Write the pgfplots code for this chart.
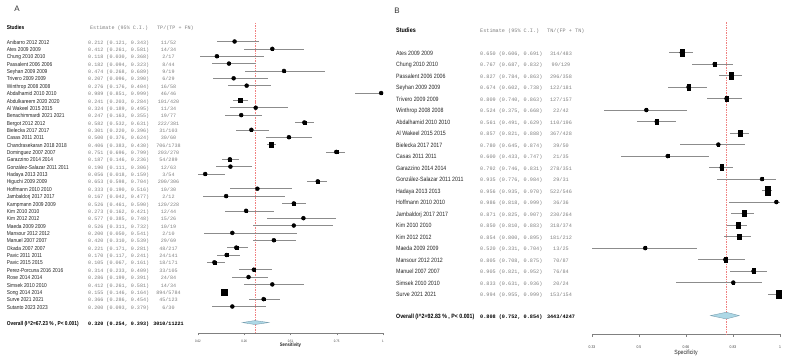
\documentclass[border=0pt]{standalone}
\usepackage{pgfplots}
\pgfplotsset{compat=1.18}
\usepackage{pgfplotstable}
\usepackage{fontspec}
\setmainfont{Liberation Sans}
\setmonofont{Liberation Mono}
\newfontfamily\narrow[FakeStretch=0.85]{Liberation Sans}

\definecolor{cigray}{HTML}{8C8C8C}
\definecolor{txtgray}{HTML}{808080}
\definecolor{refred}{HTML}{F08080}
\definecolor{diafill}{HTML}{ADD8E6}
\definecolor{diaedge}{HTML}{7A9FB0}

% Sensitivity: study; estimate; 95% CI; printed estimate; TP/(TP+FN); box half-size (pt)
\pgfplotstableread[col sep=semicolon,row sep=\\]{
name;est;lo;hi;ci;frac;s\\
Anibarro 2012 2012;0.212;0.121;0.343;0.212 (0.121, 0.343);11/52;1.0\\
Ates 2009 2009;0.412;0.261;0.581;0.412 (0.261, 0.581);14/34;1.0\\
Chung 2010 2010;0.118;0.030;0.368;0.118 (0.030, 0.368);2/17;0.9\\
Passalent 2006 2006;0.182;0.094;0.323;0.182 (0.094, 0.323);8/44;1.0\\
Seyhan 2009 2009;0.474;0.268;0.689;0.474 (0.268, 0.689);9/19;0.9\\
Trivero 2009 2009;0.207;0.096;0.390;0.207 (0.096, 0.390);6/29;0.9\\
Winthrop 2008 2008;0.276;0.176;0.404;0.276 (0.176, 0.404);16/58;1.0\\
Abdalhamid 2010 2010;0.989;0.851;0.999;0.989 (0.851, 0.999);46/46;1.1\\
Abdulkareem 2020 2020;0.241;0.203;0.284;0.241 (0.203, 0.284);101/420;1.8\\
Al Wakeel 2015 2015;0.324;0.189;0.495;0.324 (0.189, 0.495);11/34;0.9\\
Benachimmardi 2021 2021;0.247;0.163;0.355;0.247 (0.163, 0.355);19/77;1.0\\
Bergot 2012 2012;0.582;0.532;0.631;0.582 (0.532, 0.631);222/381;1.6\\
Bielecka 2017 2017;0.301;0.220;0.396;0.301 (0.220, 0.396);31/103;1.1\\
Casas 2011 2011;0.500;0.376;0.624;0.500 (0.376, 0.624);30/60;1.0\\
Chandrasekaran 2018 2018;0.406;0.383;0.430;0.406 (0.383, 0.430);706/1738;2.2\\
Dominguez 2007 2007;0.751;0.696;0.799;0.751 (0.696, 0.799);203/270;1.5\\
Garazzino 2014 2014;0.187;0.146;0.236;0.187 (0.146, 0.236);54/289;1.5\\
González-Salazar 2011 2011;0.190;0.111;0.306;0.190 (0.111, 0.306);12/63;1.0\\
Hadaya 2013 2013;0.056;0.018;0.159;0.056 (0.018, 0.159);3/54;1.2\\
Higuchi 2009 2009;0.653;0.598;0.704;0.653 (0.598, 0.704);200/306;1.5\\
Hoffmann 2010 2010;0.333;0.190;0.516;0.333 (0.190, 0.516);10/30;0.9\\
Jambaldorj 2017 2017;0.167;0.042;0.477;0.167 (0.042, 0.477);2/12;0.9\\
Kampmann 2009 2009;0.526;0.461;0.590;0.526 (0.461, 0.590);120/228;1.5\\
Kim 2010 2010;0.273;0.162;0.421;0.273 (0.162, 0.421);12/44;1.0\\
Kim 2012 2012;0.577;0.385;0.748;0.577 (0.385, 0.748);15/26;0.9\\
Maeda 2009 2009;0.526;0.311;0.732;0.526 (0.311, 0.732);10/19;0.9\\
Mansour 2012 2012;0.200;0.050;0.541;0.200 (0.050, 0.541);2/10;0.8\\
Manuel 2007 2007;0.420;0.310;0.539;0.420 (0.310, 0.539);29/69;1.1\\
Okada 2007 2007;0.221;0.171;0.281;0.221 (0.171, 0.281);48/217;1.5\\
Pavic 2011 2011;0.170;0.117;0.241;0.170 (0.117, 0.241);24/141;1.4\\
Pavic 2015 2015;0.105;0.067;0.161;0.105 (0.067, 0.161);18/171;1.5\\
Perez-Porcuna 2016 2016;0.314;0.233;0.409;0.314 (0.233, 0.409);33/105;1.1\\
Rose 2014 2014;0.286;0.199;0.391;0.286 (0.199, 0.391);24/84;1.1\\
Simsek 2010 2010;0.412;0.261;0.581;0.412 (0.261, 0.581);14/34;1.0\\
Song 2014 2014;0.155;0.146;0.164;0.155 (0.146, 0.164);894/5784;3.0\\
Surve 2021 2021;0.366;0.286;0.454;0.366 (0.286, 0.454);45/123;1.3\\
Sutanto 2023 2023;0.200;0.093;0.379;0.200 (0.093, 0.379);6/30;1.0\\
}\sensTable

% Specificity: study; estimate; 95% CI; printed estimate; TN/(FP+TN); box half-width (pt)
\pgfplotstableread[col sep=semicolon,row sep=\\]{
name;est;lo;hi;ci;frac;s\\
Ates 2009 2009;0.650;0.606;0.691;0.650 (0.606, 0.691);314/483;2.0\\
Chung 2010 2010;0.767;0.687;0.832;0.767 (0.687, 0.832);99/129;1.4\\
Passalent 2006 2006;0.827;0.784;0.863;0.827 (0.784, 0.863);296/358;2.0\\
Seyhan 2009 2009;0.674;0.602;0.738;0.674 (0.602, 0.738);122/181;1.7\\
Trivero 2009 2009;0.809;0.740;0.863;0.809 (0.740, 0.863);127/157;1.5\\
Winthrop 2008 2008;0.524;0.375;0.668;0.524 (0.375, 0.668);22/42;1.0\\
Abdalhamid 2010 2010;0.561;0.491;0.629;0.561 (0.491, 0.629);110/196;1.6\\
Al Wakeel 2015 2015;0.857;0.821;0.888;0.857 (0.821, 0.888);367/428;2.0\\
Bielecka 2017 2017;0.780;0.645;0.874;0.780 (0.645, 0.874);39/50;1.1\\
Casas 2011 2011;0.600;0.433;0.747;0.600 (0.433, 0.747);21/35;1.0\\
Garazzino 2014 2014;0.792;0.746;0.831;0.792 (0.746, 0.831);278/351;1.9\\
González-Salazar 2011 2011;0.935;0.776;0.984;0.935 (0.776, 0.984);29/31;1.0\\
Hadaya 2013 2013;0.956;0.935;0.970;0.956 (0.935, 0.970);522/546;2.8\\
Hoffmann 2010 2010;0.986;0.818;0.999;0.986 (0.818, 0.999);36/36;0.9\\
Jambaldorj 2017 2017;0.871;0.825;0.907;0.871 (0.825, 0.907);230/264;1.9\\
Kim 2010 2010;0.850;0.810;0.883;0.850 (0.810, 0.883);318/374;1.9\\
Kim 2012 2012;0.854;0.800;0.895;0.854 (0.800, 0.895);181/212;1.8\\
Maeda 2009 2009;0.520;0.331;0.704;0.520 (0.331, 0.704);13/25;0.9\\
Mansour 2012 2012;0.805;0.708;0.875;0.805 (0.708, 0.875);70/87;1.6\\
Manuel 2007 2007;0.905;0.821;0.952;0.905 (0.821, 0.952);76/84;1.6\\
Simsek 2010 2010;0.833;0.631;0.936;0.833 (0.631, 0.936);20/24;1.0\\
Surve 2021 2021;0.994;0.955;0.999;0.994 (0.955, 0.999);153/154;2.7\\
}\specTable

\pgfplotsset{
  forest/.style={
    scale only axis, clip=false,
    axis y line=none, axis x line*=bottom,
    x axis line style={gray, line width=0.5pt},
    xtick align=outside, major tick length=2.5bp,
    xtick style={gray, line width=0.5pt},
  },
  cirow/.style={only marks, mark=none, forget plot,
    error bars/.cd, x dir=both, x explicit, error mark=none,
    error bar style={cigray, line width=0.6pt}},
  boxes/.style={only marks, mark=square*, scatter, forget plot,
    scatter/use mapped color={draw=black, fill=black},
    visualization depends on={\thisrow{s}\as\ms},
    scatter/@pre marker code/.append style={/tikz/mark size=\ms}},
  txtcol/.style={only marks, mark=none, forget plot,
    point meta=explicit symbolic, nodes near coords},
}

\begin{document}
\begin{tikzpicture}
\useasboundingbox (0,0) rectangle (788bp,362bp);

% ---------------- Panel A: sensitivity ----------------
\begin{axis}[forest,
  at={(198bp,29bp)}, anchor=south west,
  width=185bp, height=310.2bp,
  xmin=0.018, xmax=0.999, ymin=-39.6, ymax=2.54,
  xtick={0.018,0.263,0.509,0.754,0.999},
  xticklabels={0.02,0.26,0.51,0.75,1},
  xticklabel style={font=\narrow\fontsize{3.4}{4}\selectfont, text=black!75, yshift=-1bp},
]
\addplot[refred, dash pattern=on 1.5pt off 1pt, line width=0.5pt, forget plot]
  coordinates {(0.320,2.54) (0.320,-39.6)};
\addplot[cirow] table[x=est, y expr=-\coordindex,
  x error plus expr=\thisrow{hi}-\thisrow{est},
  x error minus expr=\thisrow{est}-\thisrow{lo}] {\sensTable};
\addplot[boxes] table[x=est, y expr=-\coordindex] {\sensTable};
\addplot[fill=diafill, draw=diaedge, line width=0.4pt, forget plot]
  coordinates {(0.254,-38.18) (0.320,-37.91) (0.393,-38.18) (0.320,-38.45)} --cycle;

\addplot[txtcol, nodes near coords style={anchor=mid west, inner sep=0pt,
    xshift=-191.3bp, font=\narrow\fontsize{5.7}{6}\selectfont, text=black!85}]
  table[x expr=0.018, y expr=-\coordindex, meta=name] {\sensTable};
\addplot[txtcol, nodes near coords style={anchor=mid west, inner sep=0pt,
    xshift=-110bp, font=\ttfamily\fontsize{5.1}{6}\selectfont, text=txtgray}]
  table[x expr=0.018, y expr=-\coordindex, meta=ci] {\sensTable};
\addplot[txtcol, nodes near coords style={anchor=mid, inner sep=0pt,
    xshift=-29.5bp, font=\ttfamily\fontsize{5.1}{6}\selectfont, text=txtgray}]
  table[x expr=0.018, y expr=-\coordindex, meta=frac] {\sensTable};

\node[anchor=mid west, inner sep=0pt, xshift=-191.3bp, font=\narrow\bfseries\fontsize{5.7}{6}\selectfont]
  at (axis cs:0.018,2.0) {Studies};
\node[anchor=mid west, inner sep=0pt, xshift=-108bp, font=\ttfamily\fontsize{5.1}{6}\selectfont, text=txtgray]
  at (axis cs:0.018,2.0) {Estimate (95\% C.I.)};
\node[anchor=mid west, inner sep=0pt, xshift=-41bp, font=\ttfamily\fontsize{5.1}{6}\selectfont, text=txtgray]
  at (axis cs:0.018,2.0) {TP/(TP + FN)};

\node[anchor=mid west, inner sep=0pt, xshift=-191.3bp, font=\narrow\bfseries\fontsize{5.7}{6}\selectfont]
  at (axis cs:0.018,-38.18) {Overall (I\textasciicircum 2=67.23 \% , P< 0.001)};
\node[anchor=mid west, inner sep=0pt, xshift=-110bp, font=\ttfamily\bfseries\fontsize{5.1}{6}\selectfont]
  at (axis cs:0.018,-38.18) {0.320 (0.254, 0.393)};
\node[anchor=mid, inner sep=0pt, xshift=-29.5bp, font=\ttfamily\bfseries\fontsize{5.1}{6}\selectfont]
  at (axis cs:0.018,-38.18) {3010/11221};

\node[inner sep=0pt, yshift=-12.5bp, font=\narrow\bfseries\fontsize{5}{6}\selectfont, text=black!85]
  at (axis description cs:0.5,0) {Sensitivity};
\end{axis}

% ---------------- Panel B: specificity ----------------
\begin{axis}[forest,
  at={(592bp,28bp)}, anchor=south west,
  width=188bp, height=311.7bp,
  xmin=0.331, xmax=0.999, ymin=-24.47, ymax=2.63,
  xtick={0.331,0.498,0.665,0.832,0.999},
  xticklabels={0.33,0.5,0.66,0.83,1},
  xticklabel style={font=\narrow\fontsize{4}{5}\selectfont, text=black!75, yshift=-6bp},
]
\addplot[refred, dash pattern=on 1.5pt off 1pt, line width=0.5pt, forget plot]
  coordinates {(0.808,2.63) (0.808,-24.47)};
\addplot[cirow] table[x=est, y expr=-\coordindex,
  x error plus expr=\thisrow{hi}-\thisrow{est},
  x error minus expr=\thisrow{est}-\thisrow{lo}] {\specTable};
\addplot[boxes, mark options={yscale=1.6}] table[x=est, y expr=-\coordindex] {\specTable};
\addplot[fill=diafill, draw=diaedge, line width=0.4pt, forget plot]
  coordinates {(0.752,-22.87) (0.808,-22.58) (0.854,-22.87) (0.808,-23.16)} --cycle;

\addplot[txtcol, nodes near coords style={anchor=mid west, inner sep=0pt,
    xshift=-196bp, font=\narrow\fontsize{6.2}{7}\selectfont, text=black!85}]
  table[x expr=0.331, y expr=-\coordindex, meta=name] {\specTable};
\addplot[txtcol, nodes near coords style={anchor=mid west, inner sep=0pt,
    xshift=-112bp, font=\ttfamily\fontsize{5.2}{6}\selectfont, text=txtgray}]
  table[x expr=0.331, y expr=-\coordindex, meta=ci] {\specTable};
\addplot[txtcol, nodes near coords style={anchor=mid, inner sep=0pt,
    xshift=-31bp, font=\ttfamily\fontsize{5.2}{6}\selectfont, text=txtgray}]
  table[x expr=0.331, y expr=-\coordindex, meta=frac] {\specTable};

\node[anchor=mid west, inner sep=0pt, xshift=-196bp, font=\narrow\bfseries\fontsize{6.4}{7}\selectfont]
  at (axis cs:0.331,1.97) {Studies};
\node[anchor=mid west, inner sep=0pt, xshift=-112bp, font=\ttfamily\fontsize{5.2}{6}\selectfont, text=txtgray]
  at (axis cs:0.331,1.97) {Estimate (95\% C.I.)};
\node[anchor=mid west, inner sep=0pt, xshift=-45bp, font=\ttfamily\fontsize{5.2}{6}\selectfont, text=txtgray]
  at (axis cs:0.331,1.97) {TN/(FP + TN)};

\node[anchor=mid west, inner sep=0pt, xshift=-196bp, font=\narrow\bfseries\fontsize{6.2}{7}\selectfont]
  at (axis cs:0.331,-22.87) {Overall (I\textasciicircum 2=92.83 \% , P< 0.001)};
\node[anchor=mid west, inner sep=0pt, xshift=-112bp, font=\ttfamily\bfseries\fontsize{5.2}{6}\selectfont]
  at (axis cs:0.331,-22.87) {0.808 (0.752, 0.854)};
\node[anchor=mid, inner sep=0pt, xshift=-31bp, font=\ttfamily\bfseries\fontsize{5.2}{6}\selectfont]
  at (axis cs:0.331,-22.87) {3443/4247};

\node[inner sep=0pt, yshift=-19bp, font=\narrow\fontsize{6.1}{7}\selectfont, text=black!85]
  at (axis description cs:0.5,0) {Specificity};
\end{axis}

% panel letters
\node[font=\fontsize{8}{9}\selectfont, text=black!80] at (17bp,353.7bp) {A};
\node[font=\fontsize{8}{9}\selectfont, text=black!80] at (397bp,351.3bp) {B};
\end{tikzpicture}
\end{document}
